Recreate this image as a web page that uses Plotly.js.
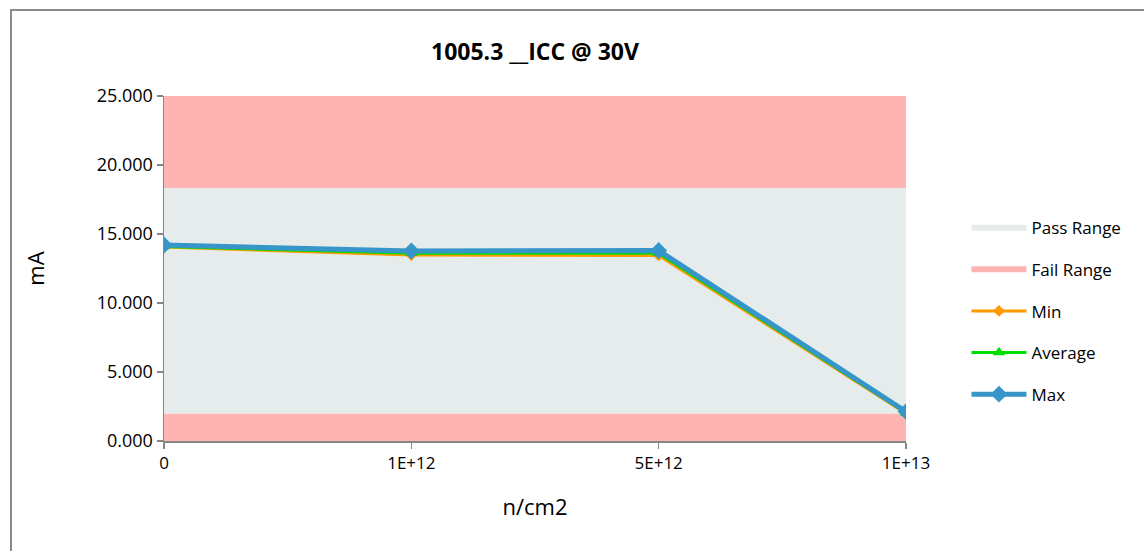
<!DOCTYPE html>
<html>
<head>
<meta charset="utf-8">
<script src="https://cdn.plot.ly/plotly-3.0.1.min.js"></script>
<style>
  html, body { margin: 0; padding: 0; background: #ffffff; overflow: hidden; }
  #wrap { position: relative; width: 1144px; height: 551px; overflow: hidden; }
  #chart { width: 1144px; height: 551px; }
  #frame { position: absolute; left: 10px; top: 9px; width: 1300px; height: 700px;
           border-left: 2px solid #8c8c8c; border-top: 2px solid #8c8c8c;
           border-right: none; border-bottom: none;
           pointer-events: none; box-sizing: border-box; }
</style>
</head>
<body>
<div id="wrap">
  <div id="chart"></div>
  <div id="frame"></div>
</div>
<script>
// ---- data ----
const categories = ['0', '1E+12', '5E+12', '1E+13'];
const lowerFail = [2.0, 2.0, 2.0, 2.0];
const passUpper = [18.33, 18.33, 18.33, 18.33];
const upperFail = [25.0, 25.0, 25.0, 25.0];
const minVals = [14.05, 13.47, 13.45, 2.0];
const avgVals = [14.10, 13.60, 13.60, 2.05];
const maxVals = [14.20, 13.77, 13.80, 2.13];
const yTicks = [0, 5, 10, 15, 20, 25];

const FONT = 'Open Sans, Noto Sans, sans-serif';
const passColor = 'rgb(230,235,235)';
const failColor = 'rgb(255,180,180)';

const traces = [
  { x: categories, y: lowerFail, type: 'scatter', mode: 'none', fill: 'tozeroy',
    fillcolor: failColor, name: 'Fail Range', showlegend: false, hoverinfo: 'skip' },
  { x: categories, y: passUpper, type: 'scatter', mode: 'none', fill: 'tonexty',
    fillcolor: passColor, name: 'Pass Range', legendrank: 1, legendgroup: 'a' },
  { x: categories, y: upperFail, type: 'scatter', mode: 'none', fill: 'tonexty',
    fillcolor: failColor, name: 'Fail Range', legendrank: 2, legendgroup: 'b' },
  { x: categories, y: minVals, type: 'scatter', mode: 'lines+markers', name: 'Min',
    line: { color: 'rgb(255,153,0)', width: 3 },
    marker: { symbol: 'diamond', size: 9, color: 'rgb(255,153,0)' },
    legendrank: 3, legendgroup: 'c' },
  { x: categories, y: avgVals, type: 'scatter', mode: 'lines+markers', name: 'Average',
    line: { color: 'rgb(0,222,0)', width: 3 },
    marker: { symbol: 'triangle-up', size: 11, color: 'rgb(0,222,0)' },
    legendrank: 4, legendgroup: 'd' },
  { x: categories, y: maxVals, type: 'scatter', mode: 'lines+markers', name: 'Max',
    line: { color: 'rgb(54,150,201)', width: 5 },
    marker: { symbol: 'diamond', size: 13, color: 'rgb(54,150,201)' },
    legendrank: 5, legendgroup: 'e' }
];

const layout = {
  width: 1144, height: 551,
  margin: { l: 164, r: 238, t: 96, b: 110 },
  paper_bgcolor: 'rgba(0,0,0,0)',
  plot_bgcolor: '#ffffff',
  font: { family: FONT, color: '#000000', size: 16 },
  title: { text: '<b>1005.3 __ICC @ 30V</b>', font: { family: FONT, size: 23, color: '#000' },
           x: 0.5, xref: 'paper', xanchor: 'center', y: 1 - 52/551, yref: 'container', yanchor: 'middle' },
  xaxis: {
    type: 'category', range: [0, 3], showgrid: false, zeroline: false,
    showline: true, linecolor: '#868686', linewidth: 1.5,
    ticks: 'outside', ticklen: 6, tickcolor: '#868686', tickwidth: 1.5,
    tickfont: { family: FONT, size: 17 },
    title: { text: 'n/cm2', font: { family: FONT, size: 22 }, standoff: 26 },
    fixedrange: true
  },
  yaxis: {
    range: [0, 25], tickvals: yTicks, tickformat: '.3f', showgrid: false, zeroline: false,
    showline: true, linecolor: '#868686', linewidth: 1.5,
    ticks: 'outside', ticklen: 6, tickcolor: '#868686', tickwidth: 1.5,
    tickfont: { family: FONT, size: 18 },
    title: { text: 'mA', font: { family: FONT, size: 22 }, standoff: 46 },
    fixedrange: true
  },
  legend: {
    x: 1.0815, xanchor: 'left', y: 0.669, yanchor: 'top',
    traceorder: 'grouped', tracegroupgap: 16.5,
    font: { family: FONT, size: 17 }, itemwidth: 55,
    bgcolor: 'rgba(0,0,0,0)'
  },
  showlegend: true
};

Plotly.newPlot('chart', traces, layout, { staticPlot: true, displayModeBar: false });
</script>
</body>
</html>
